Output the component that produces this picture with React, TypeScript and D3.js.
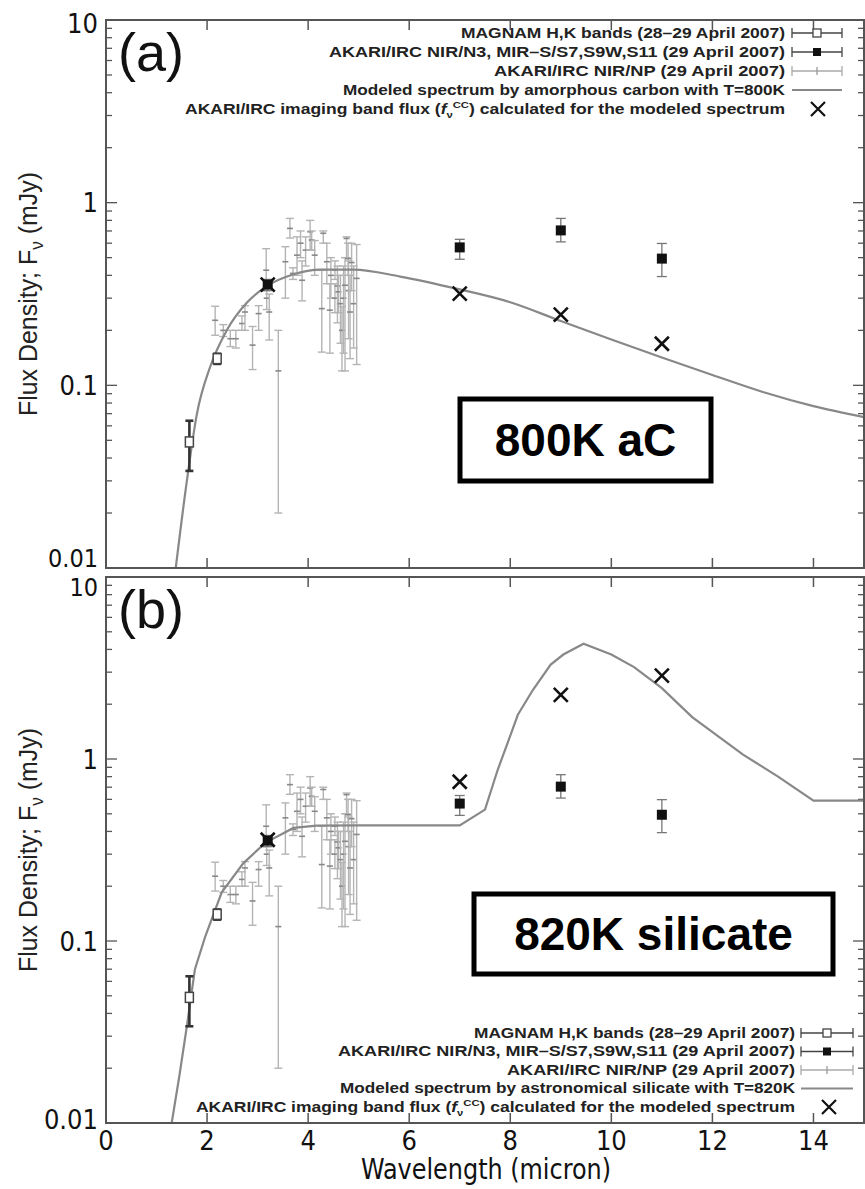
import React from 'react'
import * as d3 from 'd3'

const W = 865
const H = 1189

// MAGNAM H,K photometry
const magnamX = [1.65, 2.2]
const magnamY = [0.049, 0.14]
const magnamLo = [0.034, 0.13]
const magnamHi = [0.064, 0.15]

// AKARI/IRC imaging bands N3, S7, S9W, S11
const akariX = [3.2, 7, 9, 11]
const akariY = [0.356, 0.569, 0.705, 0.494]
const akariLo = [0.33, 0.49, 0.61, 0.394]
const akariHi = [0.38, 0.63, 0.82, 0.598]

// AKARI/IRC NIR/NP prism spectrum
const npX = [2.16, 2.32, 2.46, 2.57, 2.69, 2.75, 2.9, 3.02, 3.17, 3.18, 3.23, 3.41, 3.55, 3.64, 3.7, 3.78,
  3.85, 3.88, 3.95, 4.04, 4.07, 4.13, 4.27, 4.3, 4.37, 4.43, 4.45, 4.53, 4.53, 4.58, 4.6, 4.64, 4.67, 4.7,
  4.73, 4.76, 4.79, 4.8, 4.83, 4.86, 4.9, 4.96]
const npY = [0.227, 0.2, 0.18, 0.18, 0.218, 0.252, 0.166, 0.247, 0.427, 0.3, 0.252, 0.12, 0.475, 0.723, 0.41, 0.516,
  0.6, 0.376, 0.55, 0.693, 0.624, 0.516, 0.263, 0.68, 0.475, 0.258, 0.4, 0.427, 0.3, 0.35, 0.325, 0.28, 0.2, 0.3,
  0.353, 0.637, 0.494, 0.33, 0.252, 0.47, 0.28, 0.385]
const npLo = [0.188, 0.185, 0.163, 0.16, 0.2, 0.2, 0.122, 0.2, 0.33, 0.26, 0.177, 0.02, 0.3, 0.64, 0.38, 0.4,
  0.5, 0.29, 0.45, 0.55, 0.55, 0.4, 0.152, 0.6, 0.36, 0.15, 0.3, 0.38, 0.25, 0.22, 0.25, 0.17, 0.12, 0.15,
  0.12, 0.5, 0.4, 0.18, 0.14, 0.33, 0.16, 0.13]
const npHi = [0.271, 0.215, 0.2, 0.2, 0.24, 0.273, 0.21, 0.273, 0.56, 0.34, 0.316, 0.2, 0.574, 0.82, 0.44, 0.65,
  0.7, 0.48, 0.65, 0.8, 0.7, 0.62, 0.427, 0.7, 0.6, 0.36, 0.5, 0.48, 0.36, 0.45, 0.4, 0.4, 0.27, 0.45,
  0.5, 0.65, 0.6, 0.48, 0.4, 0.6, 0.45, 0.59]

// model spectra
const modelAX = [1.38, 1.6, 1.8, 2.06, 2.39, 2.79, 3.19, 3.7, 4.24, 4.9, 5.82, 7, 8, 9, 10, 11, 12, 13, 14, 15]
const modelAY = [0.01, 0.03, 0.07, 0.126, 0.2, 0.284, 0.35, 0.404, 0.43, 0.43, 0.394, 0.335, 0.285, 0.225, 0.178,
  0.142, 0.114, 0.092, 0.077, 0.067]
const modelBX = [1.3, 1.45, 1.6, 1.76, 1.96, 2.29, 2.72, 3.15, 3.71, 4.17, 5, 6, 7, 7.5, 7.75, 7.95, 8.15, 8.45,
  8.8, 9.05, 9.45, 10, 10.45, 11, 11.6, 12.6, 13.3, 14, 15]
const modelBY = [0.01, 0.018, 0.034, 0.07, 0.105, 0.185, 0.268, 0.346, 0.418, 0.43, 0.432, 0.432, 0.432, 0.527,
  0.87, 1.23, 1.75, 2.4, 3.3, 3.75, 4.3, 3.75, 3.2, 2.45, 1.7, 1.06, 0.8, 0.59, 0.59]

// band fluxes calculated for the models
const bandX = [3.2, 7, 9, 11]
const bandAY = [0.356, 0.318, 0.244, 0.169]
const bandBY = [0.36, 0.75, 2.25, 2.87]

const xTicks = [0, 2, 4, 6, 8, 10, 12, 14]

const legendA = [
  'MAGNAM H,K bands (28\u201329 April 2007)',
  'AKARI/IRC NIR/N3, MIR\u2013S/S7,S9W,S11 (29 April 2007)',
  'AKARI/IRC NIR/NP (29 April 2007)',
  'Modeled spectrum by amorphous carbon with T=800K',
]
const legendB = [
  'MAGNAM H,K bands (28\u201329 April 2007)',
  'AKARI/IRC NIR/N3, MIR\u2013S/S7,S9W,S11 (29 April 2007)',
  'AKARI/IRC NIR/NP (29 April 2007)',
  'Modeled spectrum by astronomical silicate with T=820K',
]

const xs = d3.scaleLinear().domain([0, 15]).range([106, 864])

const NARROW = '"Liberation Sans Narrow", "DejaVu Sans Condensed", "Arial Narrow", sans-serif'
const SANS = '"Liberation Sans", Arial, Helvetica, sans-serif'

const Cross = ({ x, y, s = 7, w = 2.6 }) => (
  <path d={`M${x - s},${y - s}L${x + s},${y + s}M${x - s},${y + s}L${x + s},${y - s}`} stroke="#111" strokeWidth={w} fill="none" />
)

const ErrBar = ({ x, y1, y2, cap, color, width }) => (
  <g stroke={color} strokeWidth={width} fill="none">
    <line x1={x} x2={x} y1={y1} y2={y2} />
    <line x1={x - cap} x2={x + cap} y1={y1} y2={y1} />
    <line x1={x - cap} x2={x + cap} y1={y2} y2={y2} />
  </g>
)

function Panel({ id, top, bottom, modelX, modelY, smooth, bandY, tag, tagY, boxText, box, legend, legendY, legendRight, legendWidths, symLeft, symRight, crossX, showX, topShift, bottomShift }) {
  const y = d3.scaleLog().domain([0.01, 10]).range([bottom, top])
  const left = xs.range()[0]
  const right = xs.range()[1]
  const line = d3.line<number>().x((d, i) => xs(modelX[i])).y(d => y(d))
  if (smooth) line.curve(d3.curveMonotoneX)
  const ticks = y.ticks()
  const isMajor = (t: number) => Math.abs(Math.log10(t) - Math.round(Math.log10(t))) < 1e-6
  const symMid = (symLeft + symRight) / 2
  const midY = (top + bottom) / 2
  const labelShift = (t: number) => (t >= 10 ? topShift : t <= 0.01 ? bottomShift : 0)
  const labelSize = (t: number) => (Math.abs(labelShift(t)) > 5 ? 25 : 27)

  return (
    <g>
      <defs>
        <clipPath id={`clip-${id}`}>
          <rect x={left} y={top} width={right - left} height={bottom - top} />
        </clipPath>
      </defs>

      {/* y ticks */}
      {ticks.map((t, i) => {
        const len = isMajor(t) ? 11 : 6
        return (
          <g key={i} stroke="#555" strokeWidth={1.3}>
            <line x1={left} x2={left + len} y1={y(t)} y2={y(t)} />
            <line x1={right - len} x2={right} y1={y(t)} y2={y(t)} />
          </g>
        )
      })}
      {ticks.filter(isMajor).map((t, i) => (
        <text key={i} x={98} y={y(t) + labelShift(t)} dy="0.36em" textAnchor="end" fontFamily={NARROW} fontSize={labelSize(t)} fill="#111">
          {t >= 1 ? String(Math.round(t)) : String(t)}
        </text>
      ))}
      {/* x ticks */}
      {xTicks.map((t, i) => (
        <g key={i} stroke="#555" strokeWidth={1.5}>
          <line x1={xs(t)} x2={xs(t)} y1={bottom} y2={bottom - 10} />
          <line x1={xs(t)} x2={xs(t)} y1={top} y2={top + 10} />
        </g>
      ))}
      {showX && xTicks.map((t, i) => (
        <text key={i} x={xs(t)} y={bottom + 27} textAnchor="middle" fontFamily={NARROW} fontSize={27} fill="#111">{t}</text>
      ))}

      {/* y label */}
      <text transform={`translate(37,${midY}) rotate(-90)`} textAnchor="middle" fontFamily={SANS} fontSize={26} fill="#222"
        textLength={244} lengthAdjust="spacingAndGlyphs">
        Flux Density; F<tspan dy="6" fontSize={18}>ν</tspan><tspan dy="-6"> (mJy)</tspan>
      </text>

      {/* NP spectrum */}
      {npX.map((x, i) => (
        <g key={i}>
          <ErrBar x={xs(x)} y1={y(npHi[i])} y2={y(npLo[i])} cap={4} color="#b4b4b4" width={1.4} />
          <line x1={xs(x) - 3} x2={xs(x) + 3} y1={y(npY[i])} y2={y(npY[i])} stroke="#888" strokeWidth={1.6} />
        </g>
      ))}

      {/* model */}
      <path d={line(modelY) || ''} fill="none" stroke="#888" strokeWidth={2.2} clipPath={`url(#clip-${id})`} />

      {/* MAGNAM */}
      {magnamX.map((x, i) => (
        <g key={i}>
          <ErrBar x={xs(x)} y1={y(magnamHi[i])} y2={y(magnamLo[i])} cap={4} color="#333" width={i === 0 ? 2.6 : 1.4} />
          <rect x={xs(x) - 4} y={y(magnamY[i]) - 5} width={8} height={10} fill="#fff" stroke="#444" strokeWidth={1.5} />
        </g>
      ))}

      {/* AKARI imaging bands */}
      {akariX.map((x, i) => (
        <g key={i}>
          <ErrBar x={xs(x)} y1={y(akariHi[i])} y2={y(akariLo[i])} cap={5} color="#777" width={1.3} />
          <rect x={xs(x) - 5} y={y(akariY[i]) - 5} width={10} height={10} fill="#111" />
        </g>
      ))}

      {/* calculated band fluxes */}
      {bandX.map((x, i) => <Cross key={i} x={xs(x)} y={y(bandY[i])} />)}

      {/* frame */}
      <rect x={left} y={top} width={right - left} height={bottom - top} fill="none" stroke="#555" strokeWidth={2} />

      {/* panel tag */}
      <text x={118} y={tagY} fontFamily={SANS} fontSize={54} fill="#111">{tag}</text>

      {/* legend */}
      {legend.map((s, i) => (
        <text key={i} x={legendRight} y={legendY[i]} dy="0.35em" textAnchor="end" fontFamily={SANS} fontWeight="bold"
          fontSize={14} fill="#222" textLength={legendWidths[i]} lengthAdjust="spacingAndGlyphs">{s}</text>
      ))}
      <text x={legendRight} y={legendY[4]} dy="0.35em" textAnchor="end" fontFamily={SANS} fontWeight="bold"
        fontSize={14} fill="#222" textLength={legendWidths[4]} lengthAdjust="spacingAndGlyphs">
        AKARI/IRC imaging band flux (<tspan fontStyle="italic">f</tspan><tspan dy="4" fontSize={9}>ν</tspan><tspan dy="-10" fontSize={9}>CC</tspan><tspan dy="6">) calculated for the modeled spectrum</tspan>
      </text>
      <ErrBar x={symLeft} y1={legendY[0] - 5} y2={legendY[0] + 5} cap={0} color="#444" width={1.3} />
      <ErrBar x={symRight} y1={legendY[0] - 5} y2={legendY[0] + 5} cap={0} color="#444" width={1.3} />
      <line x1={symLeft} x2={symRight} y1={legendY[0]} y2={legendY[0]} stroke="#444" strokeWidth={1.3} />
      <rect x={symMid - 4} y={legendY[0] - 4} width={8} height={8} fill="#fff" stroke="#444" strokeWidth={1.3} />
      <ErrBar x={symLeft} y1={legendY[1] - 5} y2={legendY[1] + 5} cap={0} color="#444" width={1.3} />
      <ErrBar x={symRight} y1={legendY[1] - 5} y2={legendY[1] + 5} cap={0} color="#444" width={1.3} />
      <line x1={symLeft} x2={symRight} y1={legendY[1]} y2={legendY[1]} stroke="#444" strokeWidth={1.3} />
      <rect x={symMid - 4} y={legendY[1] - 4} width={8} height={8} fill="#111" />
      <ErrBar x={symLeft} y1={legendY[2] - 5} y2={legendY[2] + 5} cap={0} color="#aaa" width={1.3} />
      <ErrBar x={symRight} y1={legendY[2] - 5} y2={legendY[2] + 5} cap={0} color="#aaa" width={1.3} />
      <line x1={symLeft} x2={symRight} y1={legendY[2]} y2={legendY[2]} stroke="#aaa" strokeWidth={1.3} />
      <line x1={symMid} x2={symMid} y1={legendY[2] - 4} y2={legendY[2] + 4} stroke="#999" strokeWidth={1.3} />
      <line x1={symLeft} x2={symRight} y1={legendY[3]} y2={legendY[3]} stroke="#888" strokeWidth={2} />
      <Cross x={crossX} y={legendY[4]} s={7} w={2.2} />

      {/* annotation box */}
      <rect x={box[0]} y={box[1]} width={box[2]} height={box[3]} fill="#fff" stroke="#000" strokeWidth={5} />
      <text x={box[0] + box[2] / 2} y={box[1] + box[3] / 2 + 16} textAnchor="middle" fontFamily={SANS} fontWeight="bold"
        fontSize={46} fill="#000">{boxText}</text>
    </g>
  )
}

export default function App() {
  return (
    <svg width={W} height={H} viewBox={`0 0 ${W} ${H}`} style={{ position: 'absolute', left: 0, top: 0, background: '#fff' }}>
      <rect width={W} height={H} fill="#fff" />
      <Panel id="a" top={20} bottom={568} modelX={modelAX} modelY={modelAY} smooth={true} bandY={bandAY} tag="(a)" tagY={71}
        boxText="800K aC" box={[460, 399, 251, 82]} legend={legendA} legendY={[33, 52, 71, 90, 109]} legendRight={785}
        legendWidths={[324, 456, 291, 442, 600]} symLeft={792} symRight={842} crossX={818} showX={false}
        topShift={3} bottomShift={-10} />
      <Panel id="b" top={577} bottom={1123} modelX={modelBX} modelY={modelBY} smooth={false} bandY={bandBY} tag="(b)" tagY={628}
        boxText="820K silicate" box={[474, 894, 359, 80]} legend={legendB} legendY={[1033, 1051.5, 1070, 1088.5, 1107]}
        legendRight={795} legendWidths={[321, 457, 288, 455, 599]} symLeft={801} symRight={853} crossX={829} showX={true}
        topShift={10} bottomShift={-4} />
      <text x={486} y={1179} textAnchor="middle" fontFamily={NARROW} fontSize={28} fill="#111" textLength={250}
        lengthAdjust="spacingAndGlyphs">Wavelength (micron)</text>
    </svg>
  )
}
